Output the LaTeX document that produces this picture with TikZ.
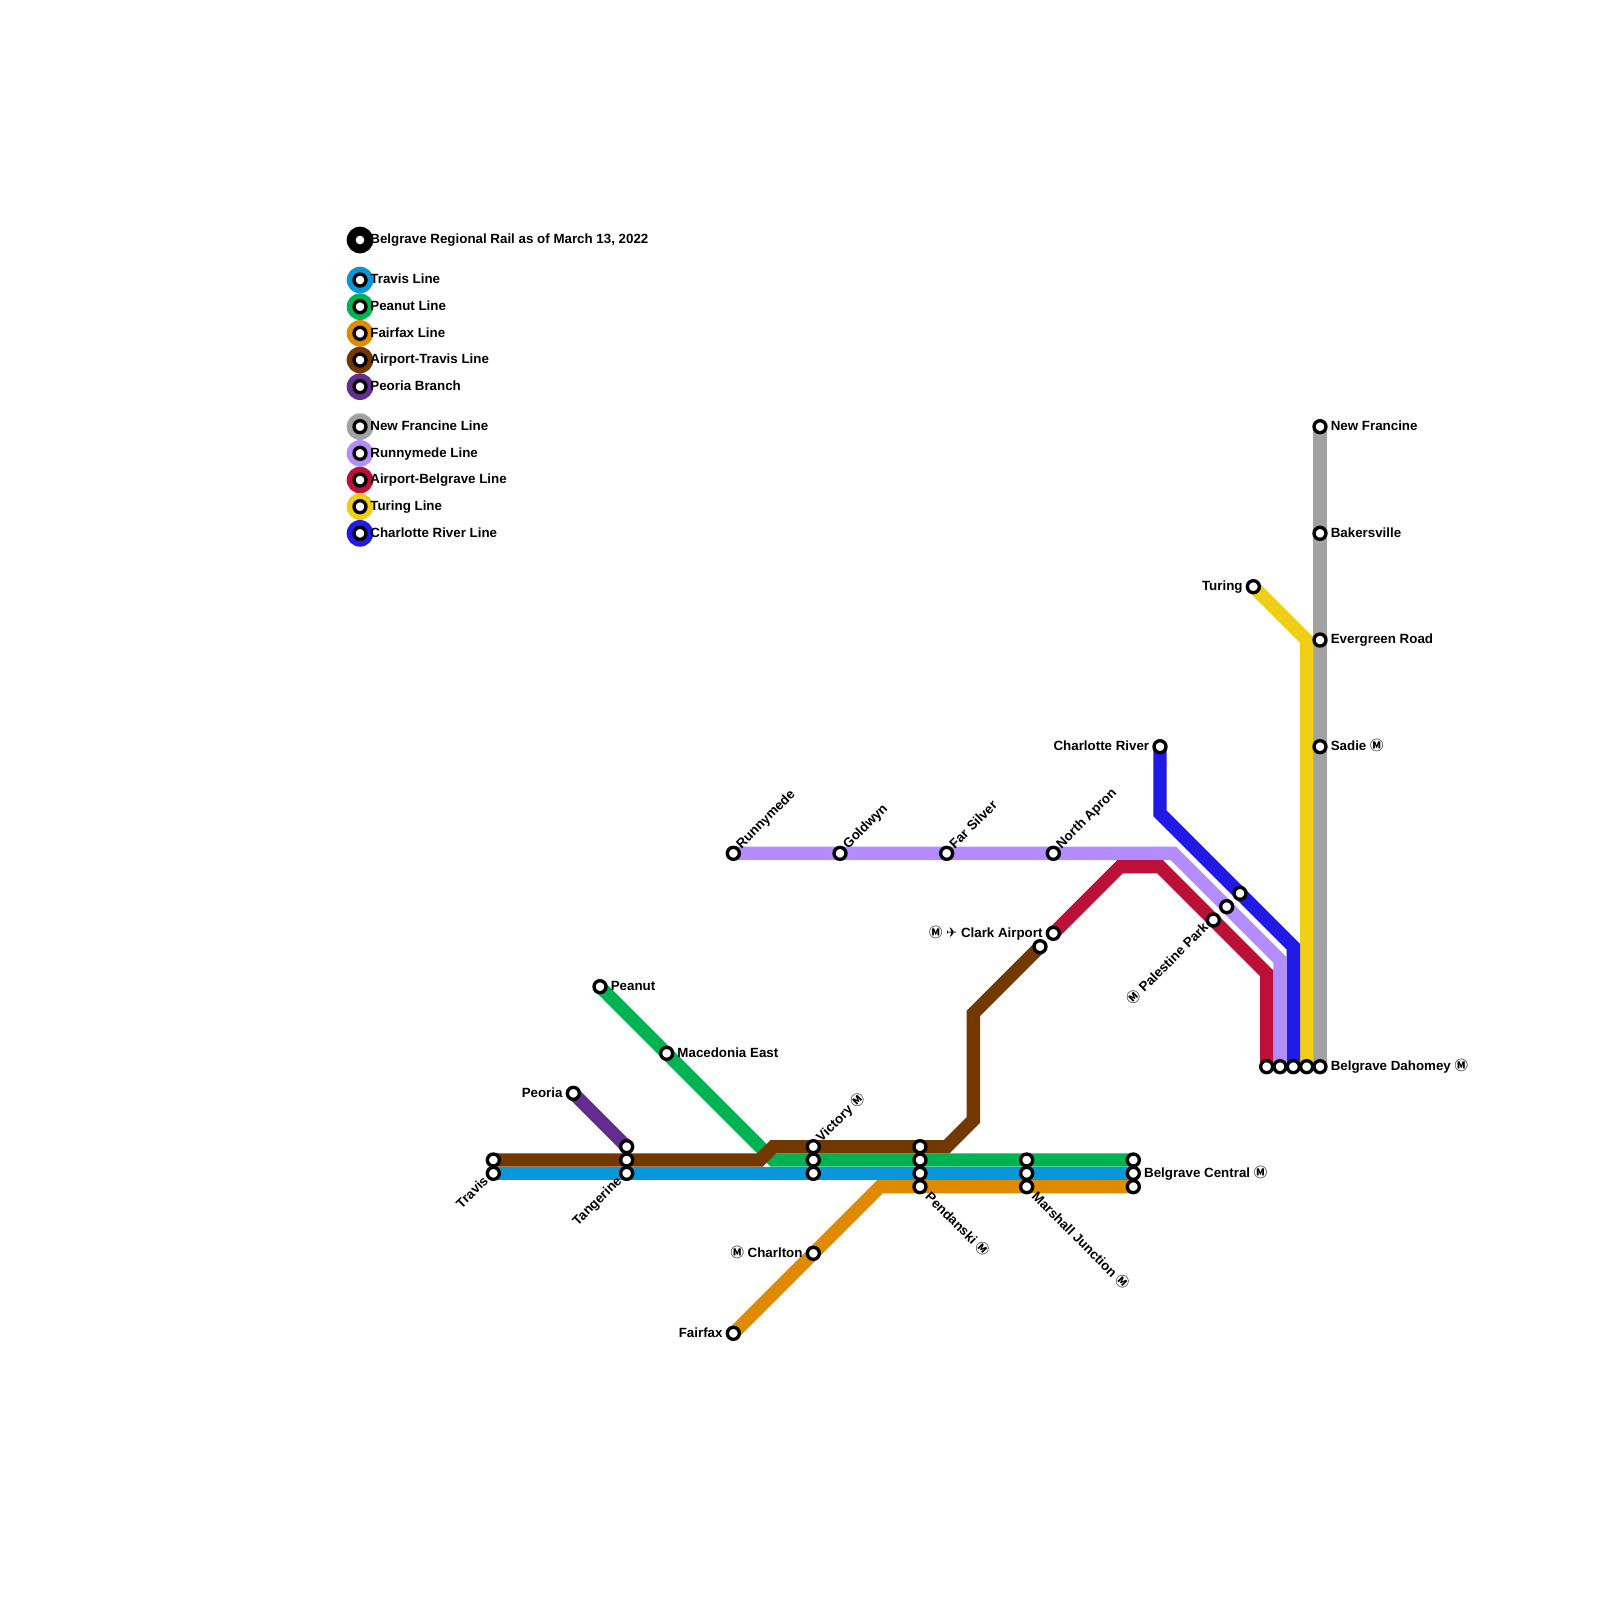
\documentclass[tikz,border=0pt]{standalone}
\usepackage{fontspec}
\setmainfont{Liberation Sans}
\newfontfamily\symfont{DejaVu Sans}
\newfontfamily\metrofont{Noto Sans CJK JP}
\usetikzlibrary{backgrounds}
\definecolor{travisblue}{HTML}{0A97D9}
\definecolor{peanutgreen}{HTML}{00B251}
\definecolor{fairfaxorange}{HTML}{E08A00}
\definecolor{airportbrown}{HTML}{733700}
\definecolor{peoriapurple}{HTML}{662D91}
\definecolor{francinegray}{HTML}{A2A2A2}
\definecolor{runnymedelilac}{HTML}{B38CFF}
\definecolor{belgravered}{HTML}{BD1038}
\definecolor{turingyellow}{HTML}{F0CE15}
\definecolor{charlotteblue}{HTML}{1F1AE6}
\newcommand{\metrosign}{{\metrofont Ⓜ}}
\newcommand{\planesign}{{\symfont\mdseries ✈}}
\tikzset{
  metroline/.style={line width=6.667pt},
  station/.style={circle, draw=black, fill=white, line width=1.67pt, minimum size=6pt, inner sep=0pt},
  legendring/.style={circle, minimum size=13.33pt, inner sep=0pt},
  stationtext/.style={inner sep=0pt, font=\fontsize{6.67}{8}\selectfont\bfseries},
  textright/.style={stationtext, anchor=mid west, xshift=5.2pt, yshift=0.7pt},
  textleft/.style={stationtext, anchor=mid east, xshift=-5.2pt, yshift=0.7pt},
  legendtext/.style={stationtext, anchor=mid west, xshift=5pt, yshift=0.7pt},
  textup/.style={stationtext, anchor=mid west, rotate=45, xshift=0.4pt, yshift=1.2pt},
  textdown/.style={stationtext, anchor=mid west, rotate=-45, xshift=1.5pt, yshift=0.3pt},
  textback/.style={stationtext, anchor=mid east, rotate=45, xshift=-0.5pt, yshift=1.2pt}
}

\begin{document}
\begin{tikzpicture}[x=6.6667pt, y=-6.6667pt]
  \useasboundingbox (0,0) rectangle (120,120);

  \node[legendring, fill=black] (legendtitle) at (27,18) {};
  \node[circle, fill=white, minimum size=4.33pt, inner sep=0pt] (legendtitledot) at (27,18) {};
  \node[legendring, fill=travisblue] (legendtravis) at (27,21) {};
  \node[legendring, fill=peanutgreen] (legendpeanut) at (27,23) {};
  \node[legendring, fill=fairfaxorange] (legendfairfax) at (27,25) {};
  \node[legendring, fill=airportbrown] (legendairport) at (27,27) {};
  \node[legendring, fill=peoriapurple] (legendpeoria) at (27,29) {};
  \node[legendring, fill=francinegray] (legendfrancine) at (27,32) {};
  \node[legendring, fill=runnymedelilac] (legendrunnymede) at (27,34) {};
  \node[legendring, fill=belgravered] (legendbelgrave) at (27,36) {};
  \node[legendring, fill=turingyellow] (legendturing) at (27,38) {};
  \node[legendring, fill=charlotteblue] (legendcharlotte) at (27,40) {};
  \node[station] (dottravis) at (legendtravis) {};
  \node[station] (dotpeanut) at (legendpeanut) {};
  \node[station] (dotfairfax) at (legendfairfax) {};
  \node[station] (dotairport) at (legendairport) {};
  \node[station] (dotpeoria) at (legendpeoria) {};
  \node[station] (dotfrancine) at (legendfrancine) {};
  \node[station] (dotrunnymede) at (legendrunnymede) {};
  \node[station] (dotbelgrave) at (legendbelgrave) {};
  \node[station] (dotturing) at (legendturing) {};
  \node[station] (dotcharlotte) at (legendcharlotte) {};
  \node[legendtext] (texttitle) at (legendtitle) {Belgrave Regional Rail as of March 13, 2022};
  \node[legendtext] (texttravis) at (legendtravis) {Travis Line};
  \node[legendtext] (textpeanut) at (legendpeanut) {Peanut Line};
  \node[legendtext] (textfairfax) at (legendfairfax) {Fairfax Line};
  \node[legendtext] (textairport) at (legendairport) {Airport-Travis Line};
  \node[legendtext] (textpeoria) at (legendpeoria) {Peoria Branch};
  \node[legendtext] (textfrancine) at (legendfrancine) {New Francine Line};
  \node[legendtext] (textrunnymede) at (legendrunnymede) {Runnymede Line};
  \node[legendtext] (textbelgrave) at (legendbelgrave) {Airport-Belgrave Line};
  \node[legendtext] (textturing) at (legendturing) {Turing Line};
  \node[legendtext] (textcharlotte) at (legendcharlotte) {Charlotte River Line};

  \node[station] (travisbrown) at (37,87) {};
  \node[station] (travisblue) at (37,88) {};
  \node[station] (tangerinepurple) at (47,86) {};
  \node[station] (tangerinebrown) at (47,87) {};
  \node[station] (tangerineblue) at (47,88) {};
  \node[station] (peoria) at (43,82) {};
  \node[station] (peanut) at (45,74) {};
  \node[station] (macedonia) at (50,79) {};
  \node[station] (victorybrown) at (61,86) {};
  \node[station] (victorygreen) at (61,87) {};
  \node[station] (victoryblue) at (61,88) {};
  \node[station] (pendanskibrown) at (69,86) {};
  \node[station] (pendanskigreen) at (69,87) {};
  \node[station] (pendanskiblue) at (69,88) {};
  \node[station] (pendanskiorange) at (69,89) {};
  \node[station] (marshallgreen) at (77,87) {};
  \node[station] (marshallblue) at (77,88) {};
  \node[station] (marshallorange) at (77,89) {};
  \node[station] (centralgreen) at (85,87) {};
  \node[station] (centralblue) at (85,88) {};
  \node[station] (centralorange) at (85,89) {};
  \node[station] (charlton) at (61,94) {};
  \node[station] (fairfax) at (55,100) {};
  \node[station] (clarkbrown) at (78,71) {};
  \node[station] (clarkred) at (79,70) {};
  \node[station] (runnymede) at (55,64) {};
  \node[station] (goldwyn) at (63,64) {};
  \node[station] (farsilver) at (71,64) {};
  \node[station] (northapron) at (79,64) {};
  \node[station] (palestinered) at (91,69) {};
  \node[station] (palestinelilac) at (92,68) {};
  \node[station] (palestineblue) at (93,67) {};
  \node[station] (charlotte) at (87,56) {};
  \node[station] (turing) at (94,44) {};
  \node[station] (newfrancine) at (99,32) {};
  \node[station] (bakersville) at (99,40) {};
  \node[station] (evergreen) at (99,48) {};
  \node[station] (sadie) at (99,56) {};
  \node[station] (dahomeyred) at (95,80) {};
  \node[station] (dahomeylilac) at (96,80) {};
  \node[station] (dahomeyblue) at (97,80) {};
  \node[station] (dahomeyyellow) at (98,80) {};
  \node[station] (dahomeygray) at (99,80) {};

  \coordinate (peanutbend) at (58,87);
  \coordinate (brownbendA) at (57,87);
  \coordinate (brownbendB) at (58,86);
  \coordinate (brownbendC) at (71,86);
  \coordinate (brownbendD) at (73,84);
  \coordinate (brownbendE) at (73,76);
  \coordinate (fairfaxbend) at (66,89);
  \coordinate (redbendA) at (84,65);
  \coordinate (redbendB) at (87,65);
  \coordinate (redbendC) at (95,73);
  \coordinate (lilacbendA) at (88,64);
  \coordinate (lilacbendB) at (96,72);
  \coordinate (bluebendA) at (87,61);
  \coordinate (bluebendB) at (97,71);
  \coordinate (yellowbend) at (98,48);

  \begin{scope}[on background layer]
    \draw[metroline, francinegray] (newfrancine.center) -- (dahomeygray.center);
    \draw[metroline, turingyellow] (turing.center) -- (yellowbend) -- (dahomeyyellow.center);
    \draw[metroline, charlotteblue] (charlotte.center) -- (bluebendA) -- (bluebendB) -- (dahomeyblue.center);
    \draw[metroline, runnymedelilac] (runnymede.center) -- (lilacbendA) -- (lilacbendB) -- (dahomeylilac.center);
    \draw[metroline, belgravered] (clarkred.center) -- (redbendA) -- (redbendB) -- (redbendC) -- (dahomeyred.center);
    \draw[metroline, peoriapurple] (peoria.center) -- (tangerinepurple.center);
    \draw[metroline, peanutgreen] (peanut.center) -- (peanutbend) -- (centralgreen.center);
    \draw[metroline, fairfaxorange] (fairfax.center) -- (fairfaxbend) -- (centralorange.center);
    \draw[metroline, travisblue] (travisblue.center) -- (centralblue.center);
    \draw[metroline, airportbrown] (travisbrown.center) -- (brownbendA) -- (brownbendB) -- (brownbendC) -- (brownbendD) -- (brownbendE) -- (clarkbrown.center);
  \end{scope}

  \node[textback] (travislabel) at (travisblue.south west) {Travis};
  \node[textback] (tangerinelabel) at (tangerineblue.south west) {Tangerine};
  \node[textleft] (peorialabel) at (peoria) {Peoria};
  \node[textright] (peanutlabel) at (peanut) {Peanut};
  \node[textright] (macedonialabel) at (macedonia) {Macedonia East};
  \node[textup] (victorylabel) at (victorybrown.north east) {Victory \metrosign};
  \node[textdown] (pendanskilabel) at (pendanskiorange.south east) {Pendanski \metrosign};
  \node[textdown] (marshalllabel) at (marshallorange.south east) {Marshall Junction \metrosign};
  \node[textright] (centrallabel) at (centralblue) {Belgrave Central \metrosign};
  \node[textleft] (charltonlabel) at (charlton) {\metrosign{} Charlton};
  \node[textleft] (fairfaxlabel) at (fairfax) {Fairfax};
  \node[textleft] (clarklabel) at (clarkred) {\metrosign{} \planesign{} Clark Airport};
  \node[textup] (runnymedelabel) at (runnymede.north east) {Runnymede};
  \node[textup] (goldwynlabel) at (goldwyn.north east) {Goldwyn};
  \node[textup] (farsilverlabel) at (farsilver.north east) {Far Silver};
  \node[textup] (northapronlabel) at (northapron.north east) {North Apron};
  \node[textback] (palestinelabel) at (palestinered.south west) {\metrosign{} Palestine Park};
  \node[textleft] (charlottelabel) at (charlotte) {Charlotte River};
  \node[textleft] (turinglabel) at (turing) {Turing};
  \node[textright] (newfrancinelabel) at (newfrancine) {New Francine};
  \node[textright] (bakersvillelabel) at (bakersville) {Bakersville};
  \node[textright] (evergreenlabel) at (evergreen) {Evergreen Road};
  \node[textright] (sadielabel) at (sadie) {Sadie \metrosign};
  \node[textright] (dahomeylabel) at (dahomeygray) {Belgrave Dahomey \metrosign};
\end{tikzpicture}
\end{document}
